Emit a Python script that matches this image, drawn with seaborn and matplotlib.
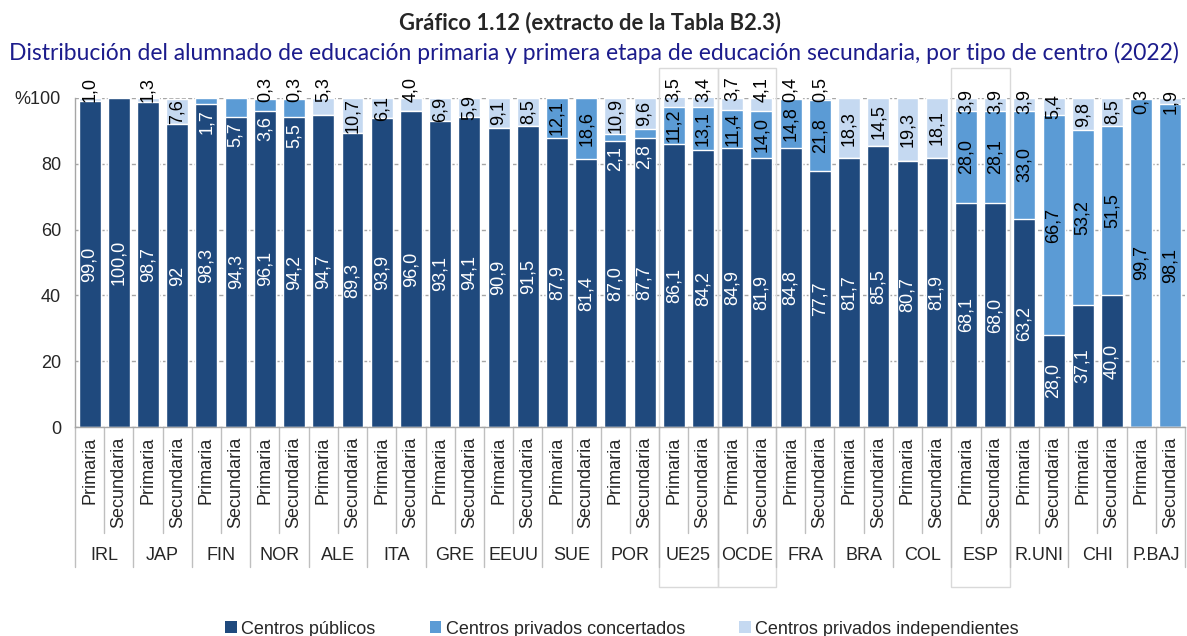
import matplotlib
matplotlib.use("Agg")
import matplotlib.pyplot as plt
import numpy as np
import pandas as pd
import seaborn as sns
from matplotlib.patches import Patch, Rectangle
from matplotlib.lines import Line2D

# ---------------- data ----------------
countries = ["IRL", "JAP", "FIN", "NOR", "ALE", "ITA", "GRE", "EEUU", "SUE", "POR",
             "UE25", "OCDE", "FRA", "BRA", "COL", "ESP", "R.UNI", "CHI", "P.BAJ"]
levels = ["Primaria", "Secundaria"]
publicos = [99.0, 100.0, 98.7, 92, 98.3, 94.3, 96.1, 94.2, 94.7, 89.3,
            93.9, 96.0, 93.1, 94.1, 90.9, 91.5, 87.9, 81.4, 87.0, 87.7,
            86.1, 84.2, 84.9, 81.9, 84.8, 77.7, 81.7, 85.5, 80.7, 81.9,
            68.1, 68.0, 63.2, 28.0, 37.1, 40.0, 0.0, 0.0]
concertados = [0, 0, 0, 0, 1.7, 5.7, 3.6, 5.5, 0, 0,
               0, 0, 0, 0, 0, 0, 12.1, 18.6, 2.1, 2.8,
               11.2, 13.1, 11.4, 14.0, 14.8, 21.8, 0, 0, 0, 0,
               28.0, 28.1, 33.0, 66.7, 53.2, 51.5, 99.7, 98.1]
independientes = [1.0, 0, 1.3, 7.6, 0, 0, 0.3, 0.3, 5.3, 10.7,
                  6.1, 4.0, 6.9, 5.9, 9.1, 8.5, 0, 0, 10.9, 9.6,
                  3.5, 3.4, 3.7, 4.1, 0.4, 0.5, 18.3, 14.5, 19.3, 18.1,
                  3.9, 3.9, 3.9, 5.4, 9.8, 8.5, 0.3, 1.9]
highlighted = ["UE25", "OCDE", "ESP"]
series_names = ["Centros públicos", "Centros privados concertados", "Centros privados independientes"]
title = "Gráfico 1.12 (extracto de la Tabla B2.3)"
subtitle = ("Distribución del alumnado de educación primaria y primera etapa de educación "
            "secundaria, por tipo de centro (2022)")

# ---------------- style ----------------
C_PUB = "#1F497D"
C_CON = "#5B9BD5"
C_IND = "#C5D9F1"
GRID = "#A6A6A6"
SEP = "#BFBFBF"

sns.set_style("white")
plt.rcParams["font.family"] = ["Liberation Sans", "DejaVu Sans"]
FS = 13

W, H = 1187, 636
fig = plt.figure(figsize=(W / 100, H / 100), dpi=100)
ax_l, ax_r, ax_t, ax_b = 75, 1185, 98, 427
ax = fig.add_axes([ax_l / W, 1 - ax_b / H, (ax_r - ax_l) / W, (ax_b - ax_t) / H])

n = len(publicos)
df = pd.DataFrame({
    "pos": np.arange(n),
    "pub": publicos,
    "con": concertados,
    "ind": independientes,
})
df["c1"] = df["pub"] + df["con"]
df["c2"] = df["c1"] + df["ind"]

for col, color in [("c2", C_IND), ("c1", C_CON), ("pub", C_PUB)]:
    sns.barplot(data=df, x="pos", y=col, color=color, saturation=1, width=0.75,
                errorbar=None, ax=ax, zorder=2)

ax.set_xlim(-0.5, n - 0.5)
ax.set_ylim(0, 100)
ax.set_xlabel("")
ax.set_ylabel("")
ax.set_xticks([])
ax.set_yticks([0, 20, 40, 60, 80, 100])
ax.set_yticklabels(["0", "20", "40", "60", "80", "%100"], fontsize=FS)
ax.tick_params(axis="y", length=6, color=GRID, pad=4)
ax.yaxis.grid(True, linestyle=(0, (3, 1.5)), color=GRID, linewidth=1.0, zorder=0)
ax.set_axisbelow(True)
for s in ["top", "right"]:
    ax.spines[s].set_visible(False)
for s in ["left", "bottom"]:
    ax.spines[s].set_color(GRID)
    ax.spines[s].set_linewidth(1.0)


def fmt(v):
    if isinstance(v, int):
        return str(v)
    return f"{v:.1f}".replace(".", ",")


for i in range(n):
    p, c, d = publicos[i], concertados[i], independientes[i]
    if p > 0:
        ax.text(i, p / 2, fmt(p), rotation=90, ha="center", va="center",
                color="white", fontsize=FS, zorder=5)
    if c > 0:
        if c >= 8:
            ax.text(i, p + c / 2, fmt(c), rotation=90, ha="center", va="center",
                    color="black", fontsize=FS, zorder=5)
        else:
            ax.text(i, p - 5.5, fmt(c), rotation=90, ha="center", va="center",
                    color="white", fontsize=FS, zorder=5)
    if d > 0:
        top = min(p + c + d, 100)
        if d >= 5.4:
            y = top - d / 2
        elif c > 25:
            y = 98.8
        else:
            y = 102.7
        ax.text(i, y, fmt(d), rotation=90, ha="center", va="center",
                color="black", fontsize=FS, zorder=5, clip_on=False)

# ---------------- two-level category axis ----------------
trans = ax.get_xaxis_transform()
axh = ax_b - ax_t
def ay(px):
    return (ax_b - px) / axh

for i in range(n):
    ax.text(i, ay(437), levels[i % 2], rotation=90, ha="center", va="top",
            fontsize=FS, transform=trans, clip_on=False)
for k, cn in enumerate(countries):
    ax.text(2 * k + 0.5, ay(555), cn, ha="center", va="center", fontsize=FS,
            transform=trans, clip_on=False)
for k in range(n + 1):
    x = k - 0.5
    ybot = ay(567) if k % 2 == 0 else ay(533)
    ax.add_line(Line2D([x, x], [0, ybot], transform=trans, color=SEP, lw=1.0,
                       clip_on=False))

for cn in highlighted:
    k = countries.index(cn)
    y0 = ay(587)
    ax.add_patch(Rectangle((2 * k - 0.5, y0), 2, ay(68) - y0, transform=trans,
                           fill=False, edgecolor="#D9D9D9", lw=1.0, clip_on=False,
                           zorder=1))

# ---------------- titles ----------------
fig.text(0.497, 1 - 23 / H, title, ha="center", va="center", fontsize=15.8,
         fontweight="bold", family=["Lato", "DejaVu Sans"])
fig.text(0.5, 1 - 53 / H, subtitle, ha="center", va="center", fontsize=16.5,
         color="#1C1C8C", family=["Lato", "DejaVu Sans"])

# ---------------- legend ----------------
handles = [Patch(facecolor=c, edgecolor="none") for c in (C_PUB, C_CON, C_IND)]
fig.legend(handles, series_names, loc="center", bbox_to_anchor=(622 / W, 7 / H),
           ncol=3, frameon=False, fontsize=FS, handlelength=0.65, handleheight=0.65,
           handletextpad=0.25, columnspacing=3.0, borderpad=0, borderaxespad=0)

fig.savefig("out.png", dpi=100)
